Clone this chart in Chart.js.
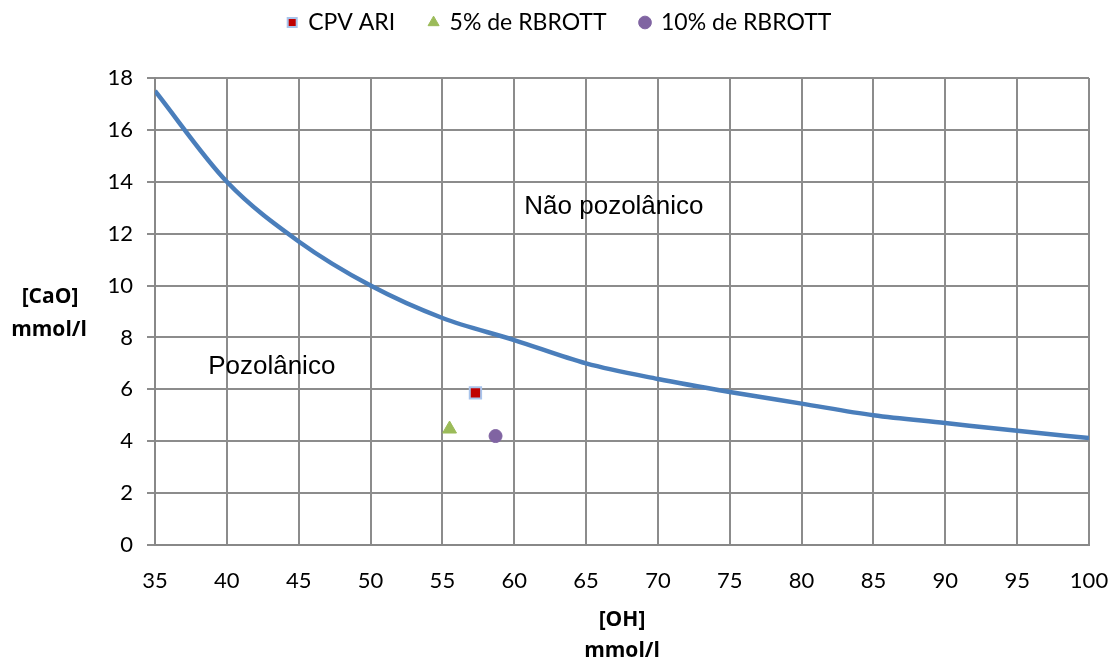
<!DOCTYPE html>
<html>
<head>
<meta charset="utf-8">
<script src="https://cdn.jsdelivr.net/npm/chart.js@4.4.1/dist/chart.umd.min.js"></script>
<style>
  html, body { margin: 0; padding: 0; background: #fff; }
  #wrap { width: 1111px; height: 661px; }
</style>
</head>
<body>
<div id="wrap"><canvas id="myChart"></canvas></div>
<script>
// limit curve [CaO] vs [OH], mmol/l
const curveOH = [35, 40, 45, 50, 55, 60, 65, 70, 75, 80, 85, 90, 95, 100];
const curveCaO = [17.5, 14, 11.7, 10, 8.75, 7.9, 7.0, 6.4, 5.9, 5.45, 5.0, 4.7, 4.4, 4.12];

// samples
const sampleNames = [ 'CPV ARI', '5% de RBROTT', '10% de RBROTT' ];
const sampleOH = [57.3, 55.5, 58.7];
const sampleCaO = [5.86, 4.47, 4.2];

const xTicks = [35, 40, 45, 50, 55, 60, 65, 70, 75, 80, 85, 90, 95, 100];

const areaLabels = [
	{ text: 'Não pozolânico', x: 60.7, y: 13.03 },
	{ text: 'Pozolânico', x: 38.7, y: 6.86 }
];

const tickFont = { family: 'Lato', size: 22 };

// legend gets a fixed height so the plot starts lower, and sits a bit right
const legendBox = {
	id: 'legendBox',
	beforeLayout(chart) {
		const lg = chart.legend;
		if (lg && !lg._fixed) {
			const fit = lg.fit;
			lg.fit = function () {
				fit.call(this);
				this.height = 101;
			};
			lg._fixed = true;
		}
	},
	afterUpdate(chart) {
		const lg = chart.legend;
		if (lg) {
			lg.left += 15;
			lg.right += 15;
			lg.adjustHitBoxes();
		}
	}
};

const extraText = {
	id: 'extraText',
	afterDatasetsDraw(chart) {
		const { ctx, scales } = chart;
		ctx.save();
		ctx.fillStyle = '#000';
		ctx.font = '26px "Liberation Sans"';
		ctx.textBaseline = 'middle';
		ctx.textAlign = 'left';
		areaLabels.forEach((l) => {
			ctx.fillText(l.text, scales.x.getPixelForValue(l.x), scales.y.getPixelForValue(l.y));
		});
		// horizontal y axis title
		ctx.font = 'bold 21px "Open Sans"';
		ctx.textAlign = 'center';
		ctx.fillText('[CaO]', 50, 297);
		ctx.fillText('mmol/l', 49, 330);
		ctx.restore();
	}
};

const ctx1 = document.getElementById('myChart').getContext('2d');

const chart = new Chart(ctx1, {
	type: 'scatter',
	data: {
		datasets: [
			{
				label: sampleNames[0],
				data: [ { x: sampleOH[0], y: sampleCaO[0] } ],
				pointStyle: 'rect',
				pointRadius: 8,
				backgroundColor: '#c00000',
				borderColor: '#a9c4eb',
				borderWidth: 2
			},
			{
				label: sampleNames[1],
				data: [ { x: sampleOH[1], y: sampleCaO[1] } ],
				pointStyle: 'triangle',
				pointRadius: 8,
				backgroundColor: '#9bbb59',
				borderColor: '#9bbb59',
				borderWidth: 1
			},
			{
				label: sampleNames[2],
				data: [ { x: sampleOH[2], y: sampleCaO[2] } ],
				pointStyle: 'circle',
				pointRadius: 6.5,
				backgroundColor: '#8064a2',
				borderColor: '#8064a2',
				borderWidth: 1
			},
			{
				label: 'curva',
				type: 'line',
				data: curveOH.map((v, i) => ({ x: v, y: curveCaO[i] })),
				borderColor: '#4a7ebb',
				borderWidth: 4.5,
				pointRadius: 0,
				cubicInterpolationMode: 'monotone',
				fill: false
			}
		]
	},
	options: {
		responsive: true,
		maintainAspectRatio: false,
		animation: false,
		layout: {
			padding: { left: 0, right: 22, top: -23, bottom: 0 }
		},
		plugins: {
			legend: {
				position: 'top',
				labels: {
					filter: (item) => item.datasetIndex < 3,
					usePointStyle: true,
					boxWidth: 9,
					boxHeight: 9,
					padding: 34,
					color: '#000',
					font: { family: 'Lato', size: 23 }
				}
			},
			tooltip: { enabled: false }
		},
		scales: {
			x: {
				type: 'linear',
				min: 35,
				max: 100,
				afterBuildTicks: (scale) => {
					scale.ticks = xTicks.map((v) => ({ value: v }));
				},
				afterFit: (scale) => {
					scale.height = 116;
					scale.paddingLeft = 0;
					scale.paddingRight = 0;
				},
				border: { color: '#888', width: 2 },
				grid: { color: '#8c8c8c', lineWidth: 2, drawTicks: false },
				ticks: { color: '#000', font: tickFont, padding: 23, maxRotation: 0 },
				title: {
					display: true,
					text: [ '[OH]', 'mmol/l' ],
					color: '#000',
					font: { family: 'Open Sans', size: 21, weight: 'bold', lineHeight: 1.5 },
					padding: { top: 0, bottom: -6 }
				}
			},
			y: {
				min: 0,
				max: 18,
				afterFit: (scale) => {
					scale.width = 155;
					scale.paddingTop = 0;
					scale.paddingBottom = 0;
				},
				border: { color: '#888', width: 2 },
				grid: { color: '#8c8c8c', lineWidth: 2, tickLength: 8 },
				ticks: { stepSize: 2, color: '#000', font: tickFont, padding: 14 }
			}
		}
	},
	plugins: [ legendBox, extraText ]
});
</script>
</body>
</html>
